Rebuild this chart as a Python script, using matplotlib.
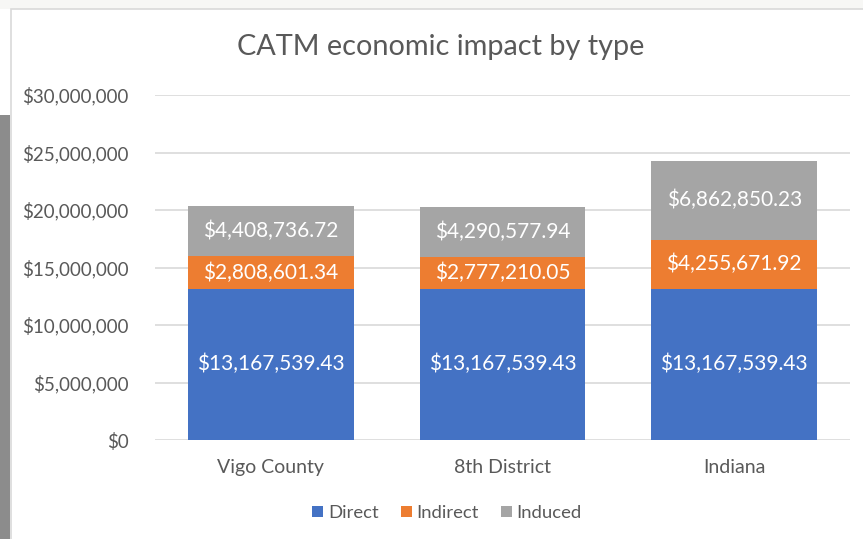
import matplotlib
matplotlib.use("Agg")
import matplotlib.pyplot as plt
from matplotlib.patches import Rectangle
from matplotlib.ticker import FuncFormatter

categories = ["Vigo County", "8th District", "Indiana"]
direct = [13167539.43, 13167539.43, 13167539.43]
indirect = [2808601.34, 2777210.05, 4255671.92]
induced = [4408736.72, 4290577.94, 6862850.23]
series_names = ["Direct", "Indirect", "Induced"]
colors = ["#4472C4", "#ED7D31", "#A5A5A5"]

plt.rcParams['font.family'] = ['Lato', 'DejaVu Sans']
txt = "#595959"

fig = plt.figure(figsize=(8.63, 5.39), dpi=100)
fig.patch.set_facecolor("white")
# screenshot decorations
fig.patches.append(Rectangle((0, 539 - 9), 863, 9, transform=None, facecolor="#F7F7F5", edgecolor="none", zorder=0))
fig.patches.append(Rectangle((0, 0), 10, 539 - 115, transform=None, facecolor="#8C8C8C", edgecolor="none", zorder=0))
fig.patches.append(Rectangle((11, -5), 900, 539 - 9 + 5, transform=None, facecolor="none", edgecolor="#D9D9D9", lw=1.2, zorder=1))

ax = fig.add_axes([155 / 863, (539 - 440) / 539, 695 / 863, 345 / 539])
ax.set_facecolor("none")
x = list(range(len(categories)))
w = 0.714
b1 = ax.bar(x, direct, w, color=colors[0], label=series_names[0], zorder=3)
bottom2 = direct
b2 = ax.bar(x, indirect, w, bottom=bottom2, color=colors[1], label=series_names[1], zorder=3)
bottom3 = [d + i for d, i in zip(direct, indirect)]
b3 = ax.bar(x, induced, w, bottom=bottom3, color=colors[2], label=series_names[2], zorder=3)

for bars, vals, bots in [(b1, direct, [0] * 3), (b2, indirect, bottom2), (b3, induced, bottom3)]:
    for rect, v, b in zip(bars, vals, bots):
        ax.text(rect.get_x() + rect.get_width() / 2, b + v / 2, "${:,.2f}".format(v),
                ha="center", va="center", color="white", fontsize=15, zorder=4)

ax.set_xlim(-0.5, 2.5)
ax.set_ylim(0, 30000000)
ax.set_yticks(range(0, 30000001, 5000000))
ax.yaxis.set_major_formatter(FuncFormatter(lambda v, p: "${:,.0f}".format(v)))
ax.set_xticks(x)
ax.set_xticklabels(categories)
ax.tick_params(axis="both", length=0, labelsize=13.5, labelcolor=txt)
ax.tick_params(axis="x", labelsize=14)
ax.tick_params(axis="y", pad=19)
ax.tick_params(axis="x", pad=14)
for s in ax.spines.values():
    s.set_visible(False)
ax.grid(axis="y", color="#D9D9D9", lw=1.2, zorder=0)
ax.set_axisbelow(True)

fig.text(441 / 863, 1 - 47 / 539, "CATM economic impact by type", ha="center", va="center",
         fontsize=20.8, color=txt)

leg = fig.legend(handles=[b1, b2, b3], labels=series_names, loc="center",
                 bbox_to_anchor=(447 / 863, 1 - 513 / 539), ncol=3, frameon=False,
                 fontsize=13.3, handlelength=0.6, handleheight=0.6, handletextpad=0.25,
                 columnspacing=1.2)
for t in leg.get_texts():
    t.set_color(txt)

fig.savefig("out.png", dpi=100)
